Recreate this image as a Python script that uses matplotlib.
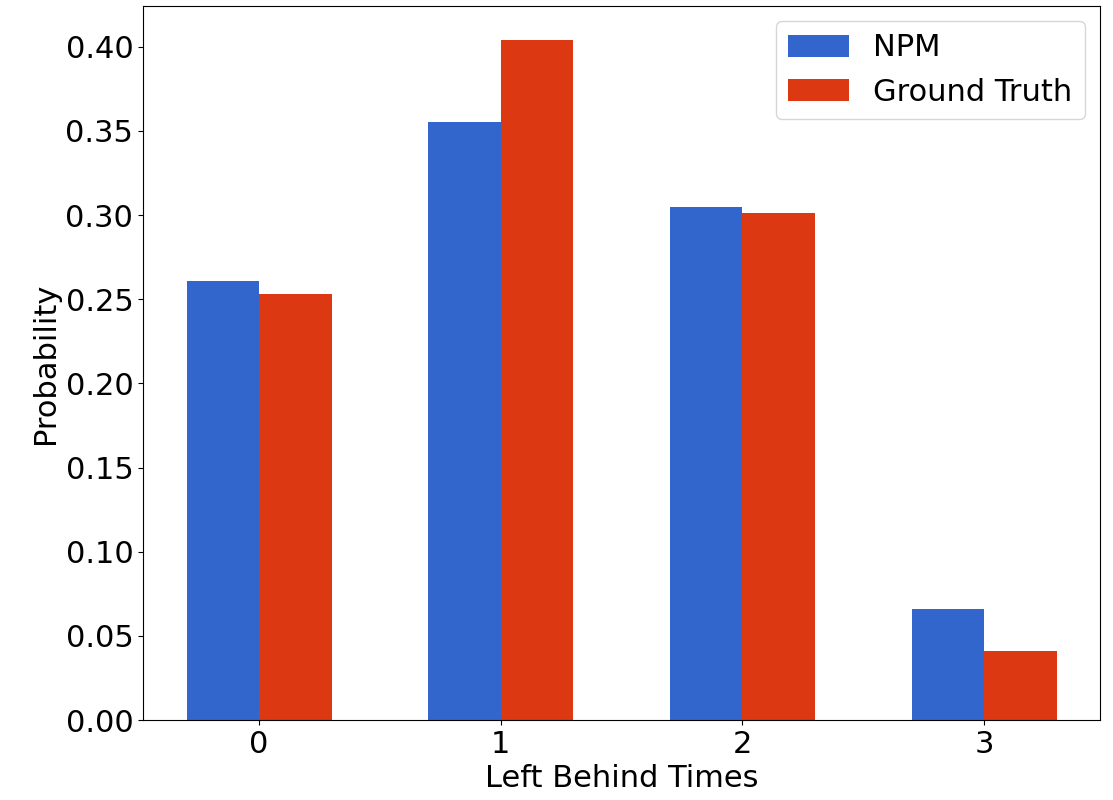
import numpy as np
import matplotlib.pyplot as plt

times = [0, 1, 2, 3]
npm = [0.261, 0.355, 0.305, 0.066]
truth = [0.253, 0.404, 0.301, 0.041]

fig = plt.figure(figsize=(11.13, 8), dpi=100)
ax = fig.add_axes([0.1285, 0.1, 0.86, 0.8925])

x = np.arange(len(times))
w = 0.3
ax.bar(x - w/2, npm, w, color='#3366cc', label='NPM')
ax.bar(x + w/2, truth, w, color='#dc3912', label='Ground Truth')

ax.set_xticks(x)
ax.set_xticklabels([str(t) for t in times])
ax.tick_params(labelsize=22)
ax.set_xlabel('Left Behind Times', fontsize=22)
ax.set_ylabel('Probability', fontsize=22)
ax.legend(fontsize=22, loc='upper right')

plt.savefig('out.png', dpi=100)
